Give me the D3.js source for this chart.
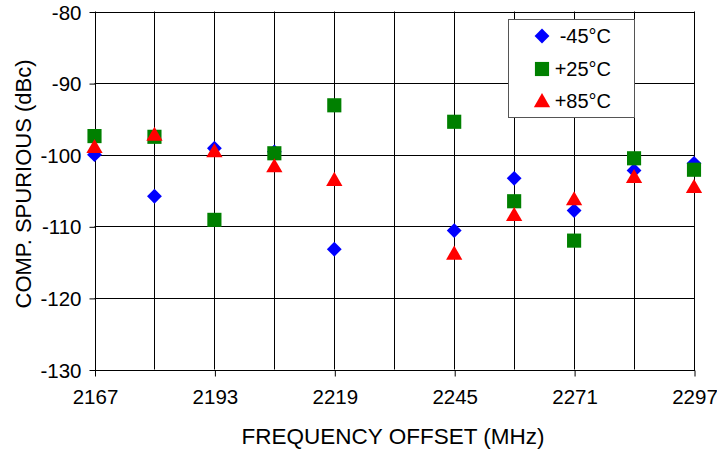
<!DOCTYPE html>
<html><head><meta charset="utf-8">
<script src="https://cdn.jsdelivr.net/npm/d3@7"></script>
<style>body{margin:0;background:#fff}svg{display:block}text{font-family:"Liberation Sans",Arial,sans-serif;fill:#000}</style>
</head><body><svg id="c" width="717" height="451"></svg>
<script>
const freqs = [2167,2180,2193,2206,2219,2245,2258,2271,2284,2297];
const minus45 = [-100.0,-105.8,-99.1,-99.6,-113.2,-110.6,-103.3,-107.8,-102.2,-101.2];
const plus25 = [-97.4,-97.5,-109.1,-99.8,-93.1,-95.4,-106.5,-112.0,-100.5,-102.1];
const plus85 = [-98.9,-97.2,-99.5,-101.6,-103.5,-113.8,-108.4,-106.2,-103.1,-104.5];
const xTicks = [2167,2193,2219,2245,2271,2297];
const xGrid = [2167,2180,2193,2206,2219,2232,2245,2258,2271,2284,2297];
const yTicks = [-130,-120,-110,-100,-90,-80];
const seriesNames = ["-45°C","+25°C","+85°C"];

const svg = d3.select("#c");
const L=94.5, R=694, T=11.5, B=369.5;
const x = d3.scaleLinear().domain([2167,2297]).range([L,R]);
const y = d3.scaleLinear().domain([-130,-80]).range([B,T]);
const fmt = d => String(d);

const g = svg.append("g");
g.selectAll(".vg").data(xGrid).join("line")
 .attr("x1",d=>Math.round(x(d))+0.5).attr("x2",d=>Math.round(x(d))+0.5)
 .attr("y1",T).attr("y2",B).attr("stroke","#000").attr("stroke-width",1);
g.selectAll(".hg").data(yTicks).join("line")
 .attr("y1",d=>Math.round(y(d))+0.5).attr("y2",d=>Math.round(y(d))+0.5)
 .attr("x1",L).attr("x2",R).attr("stroke","#000").attr("stroke-width",1);

const yAxis = d3.axisLeft(y).tickValues(yTicks).tickSize(6).tickPadding(8).tickFormat(fmt);
const ya = svg.append("g").attr("transform",`translate(${Math.round(L)+0.5},0.5)`).call(yAxis);
ya.select(".domain").remove();
ya.selectAll("text").style("font-size","20.5px").attr("font-family",null).attr("dy","0.35em");
ya.selectAll("line").attr("stroke","#000");

const xAxis = d3.axisBottom(x).tickValues(xTicks).tickSize(6).tickPadding(13).tickFormat(fmt);
const xa = svg.append("g").attr("transform",`translate(0.5,${Math.round(B)+0.5})`).call(xAxis);
xa.select(".domain").remove();
xa.selectAll("text").style("font-size","20.5px").attr("font-family",null);
xa.selectAll("line").attr("stroke","#000");

svg.append("rect").attr("x",Math.round(L)+0.5).attr("y",Math.round(T)+0.5)
 .attr("width",Math.round(R)-Math.round(L)).attr("height",Math.round(B)-Math.round(T))
 .attr("fill","none").attr("stroke","#000");

svg.append("text").attr("x",393).attr("y",444).attr("text-anchor","middle")
 .style("font-size","22.5px").text("FREQUENCY OFFSET (MHz)");
svg.append("text").attr("transform",`translate(31,184) rotate(-90)`).attr("text-anchor","middle")
 .style("font-size","22px").text("COMP. SPURIOUS (dBc)");

const sym = [d3.symbolSquare, d3.symbolSquare, d3.symbolTriangle];
const rot = [45, 0, 0];
const cols = ["#0000ff","#008000","#ff0000"];
const sizes = [110, 200, 115];
const data = [minus45, plus25, plus85];
data.forEach((vals,i)=>{
  svg.append("g").selectAll("path").data(vals).join("path")
   .attr("d", d3.symbol().type(sym[i]).size(sizes[i]))
   .attr("transform",(d,j)=>`translate(${x(freqs[j])},${y(d)+(i==2?1.5:0)}) rotate(${rot[i]})`)
   .attr("fill",cols[i]);
});

const lg = svg.append("g");
lg.append("rect").attr("x",508.5).attr("y",19.5).attr("width",126).attr("height",98)
 .attr("fill","#fff").attr("stroke","#555").attr("stroke-width",1);
const rowsY=[36,69,101];
seriesNames.forEach((n,i)=>{
  lg.append("path").attr("d",d3.symbol().type(sym[i]).size(sizes[i]))
   .attr("transform",`translate(542,${rowsY[i]+(i==2?1.5:0)}) rotate(${rot[i]})`).attr("fill",cols[i]);
  lg.append("text").attr("x",611).attr("y",rowsY[i]).attr("dy","0.35em").attr("text-anchor","end")
   .style("font-size","20px").text(n);
});
</script></body></html>
